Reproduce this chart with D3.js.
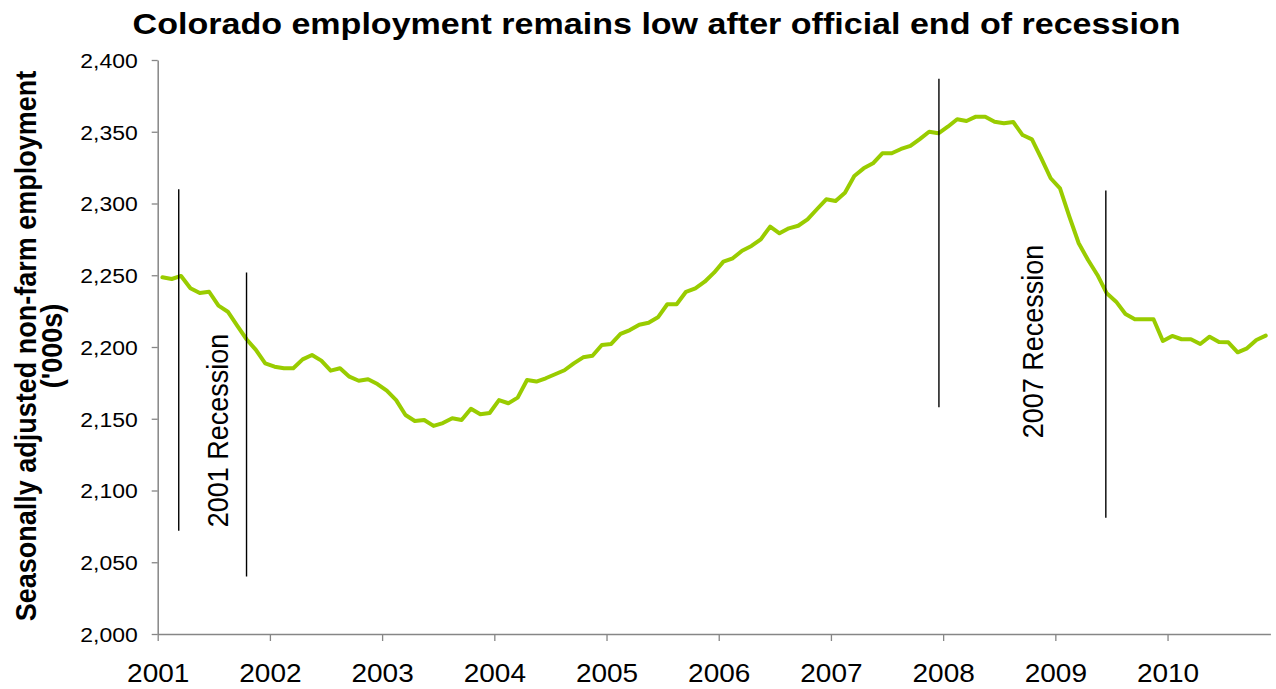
<!DOCTYPE html>
<html><head><meta charset="utf-8">
<script src="https://cdn.jsdelivr.net/npm/d3@7"></script>
<style>
body{margin:0;background:#fff}
text{font-family:"Liberation Sans",Arial,Helvetica,sans-serif;fill:#000}
</style>
</head><body>
<svg id="chart" width="1276" height="689"></svg>
<script>
// ---------- data ----------
const chartTitle = "Colorado employment remains low after official end of recession";
const yTitleLines = ["Seasonally adjusted non-farm employment", "('000s)"];
const yearLabels = ["2001","2002","2003","2004","2005","2006","2007","2008","2009","2010"];
const yTickValues = [2000,2050,2100,2150,2200,2250,2300,2350,2400];
// Monthly employment, Jan 2001 - Nov 2010 ('000s)
const employment = [
  2248.6,2247.4,2249.5,2241.0,2237.6,2238.5,2228.8,2224.6,2214.9,2205.4,2198.0,2188.6,
  2186.3,2185.2,2185.2,2191.4,2194.4,2190.5,2183.5,2185.2,2179.3,2176.5,2177.5,2174.2,
  2169.6,2163.0,2152.6,2148.4,2149.1,2145.0,2147.0,2150.3,2149.1,2157.0,2153.1,2154.0,
  2163.0,2160.8,2164.7,2177.0,2175.9,2178.2,2181.0,2183.8,2188.6,2192.8,2193.9,2201.4,
  2202.1,2209.1,2211.8,2215.5,2216.9,2220.7,2229.8,2229.8,2238.5,2240.9,2245.5,2251.8,
  2259.5,2261.8,2267.1,2270.4,2275.0,2283.9,2279.2,2282.7,2284.5,2289.0,2296.0,2302.9,
  2301.7,2307.5,2319.2,2324.5,2328.0,2335.0,2335.0,2338.0,2340.1,2344.9,2350.0,2348.9,
  2353.5,2358.7,2357.5,2360.5,2360.5,2357.0,2355.9,2356.8,2347.7,2344.7,2331.5,2317.6,
  2310.6,2290.8,2272.3,2260.6,2250.2,2237.4,2231.6,2223.0,2219.3,2219.3,2219.3,2204.2,
  2207.7,2205.4,2205.4,2202.1,2207.2,2203.5,2203.3,2196.3,2199.1,2204.9,2207.9
];
// Recession markers: month offset from Jan 2001, and value span
const recessionMonths = [2.25, 9.5, 83.55, 101.4];
const recessionLow    = [2072, 2040, 2158, 2081];
const recessionHigh   = [2310, 2252, 2387, 2309];
const recessionLabelText   = ["2001 Recession", "2007 Recession"];
const recessionLabelMonths = [7.55, 94.7];
const recessionLabelValues = [2141.8, 2203.8];

// ---------- layout ----------
const plotLeft = 157.7, plotRight = 1270.4, plotTop = 60, plotBottom = 634;
const SX = 1.12; // horizontal text stretch
const svg = d3.select("#chart");
const nMonths = employment.length;

const x = d3.scaleLinear().domain([0, nMonths]).range([plotLeft, plotRight]);
const y = d3.scaleLinear().domain([2000, 2400]).range([plotBottom, plotTop]);

// title
svg.append("text")
  .attr("transform", `translate(656.5,34) scale(1.135,1)`)
  .attr("text-anchor", "middle")
  .style("font-weight", "bold").style("font-size", "30px")
  .text(chartTitle);

// y axis title
const yt = svg.append("g");
yTitleLines.forEach((t, i) => {
  yt.append("text")
    .attr("transform", `translate(${35.5 + i*26},346) scale(${SX},1) rotate(-90)`)
    .attr("text-anchor", "middle")
    .style("font-weight", "bold").style("font-size", "27px")
    .text(t);
});

// axes
const axisColor = "#868686";
const yAxis = d3.axisLeft(y).tickValues(yTickValues).tickFormat(d3.format(",")).tickSize(6).tickSizeOuter(0);
const gy = svg.append("g").attr("transform", `translate(${plotLeft},0)`).call(yAxis);
gy.select(".domain").attr("stroke", axisColor).attr("stroke-width", 1.5);
gy.selectAll(".tick line").attr("stroke", axisColor).attr("stroke-width", 1.3);
gy.selectAll(".tick text")
  .attr("x", -20 / SX).attr("dy", null).attr("y", 7.3)
  .attr("transform", `scale(${SX},1)`)
  .style("font-size", "20.5px").style("font-family", '"Liberation Sans",Arial,sans-serif').attr("fill", "#000");

const xAxis = d3.axisBottom(x)
  .tickValues(yearLabels.map((d, i) => i * 12))
  .tickFormat((d, i) => yearLabels[i]).tickSize(7).tickSizeOuter(0);
const gx = svg.append("g").attr("transform", `translate(0,${plotBottom})`).call(xAxis);
gx.select(".domain").attr("stroke", axisColor).attr("stroke-width", 1.5);
gx.selectAll(".tick line").attr("stroke", axisColor).attr("stroke-width", 1.3);
gx.selectAll(".tick text")
  .attr("y", 47.7).attr("dy", null)
  .attr("transform", `scale(${SX},1)`)
  .style("font-size", "25px").style("font-family", '"Liberation Sans",Arial,sans-serif').attr("fill", "#000");

// data line
const line = d3.line().x((d, i) => x(i + 0.5)).y(d => y(d));
svg.append("path").datum(employment)
  .attr("d", line).attr("fill", "none")
  .attr("stroke", "#99CC00").attr("stroke-width", 4)
  .attr("stroke-linejoin", "round").attr("stroke-linecap", "round");

// recession markers
svg.append("g").selectAll("line").data(recessionMonths).join("line")
  .attr("x1", d => x(d)).attr("x2", d => x(d))
  .attr("y1", (d, i) => y(recessionHigh[i])).attr("y2", (d, i) => y(recessionLow[i]))
  .attr("stroke", "#000").attr("stroke-width", 1.4);

svg.append("g").selectAll("text").data(recessionLabelText).join("text")
  .attr("transform", (d, i) => `translate(${x(recessionLabelMonths[i])},${y(recessionLabelValues[i])}) scale(${SX},1) rotate(-90)`)
  .attr("text-anchor", "middle")
  .style("font-size", "27px")
  .text(d => d);
</script>
</body></html>
